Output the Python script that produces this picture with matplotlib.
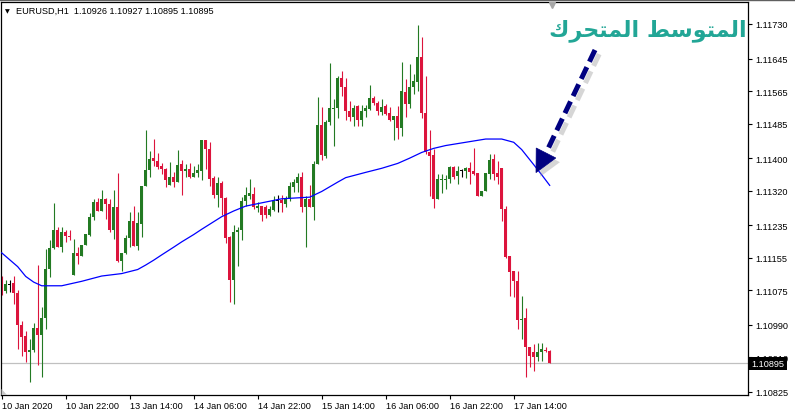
import numpy as np
import matplotlib
matplotlib.use("Agg")
import matplotlib.pyplot as plt
import matplotlib.patheffects as pe
import matplotlib.transforms as mtransforms
from matplotlib.patches import Polygon
from matplotlib.lines import Line2D

# EURUSD H1 candles, 10 Jan 2020 06:00 -> 17 Jan 2020 23:00
opens = [1.11084, 1.11074, 1.11089, 1.11093, 1.11068, 1.10990, 1.10962, 1.10922, 1.10929, 1.10982,
         1.10966, 1.11007, 1.11127, 1.11179, 1.11223, 1.11182, 1.11218, 1.11209, 1.11113, 1.11167,
         1.11160, 1.11186, 1.11211, 1.11255, 1.11293, 1.11271, 1.11300, 1.11286, 1.11223, 1.11279,
         1.11148, 1.11166, 1.11203, 1.11246, 1.11185, 1.11238, 1.11331, 1.11371, 1.11400, 1.11394,
         1.11381, 1.11373, 1.11335, 1.11354, 1.11341, 1.11386, 1.11369, 1.11373, 1.11354, 1.11363,
         1.11369, 1.11445, 1.11423, 1.11351, 1.11310, 1.11339, 1.11302, 1.11207, 1.11100, 1.11218,
         1.11222, 1.11295, 1.11306, 1.11312, 1.11277, 1.11282, 1.11281, 1.11261, 1.11273, 1.11295,
         1.11297, 1.11287, 1.11300, 1.11330, 1.11338, 1.11354, 1.11281, 1.11300, 1.11281, 1.11386,
         1.11482, 1.11406, 1.11488, 1.11521, 1.11523, 1.11597, 1.11576, 1.11515, 1.11502, 1.11528,
         1.11495, 1.11515, 1.11522, 1.11548, 1.11535, 1.11514, 1.11528, 1.11510, 1.11495, 1.11503,
         1.11474, 1.11563, 1.11532, 1.11575, 1.11587, 1.11650, 1.11512, 1.11414, 1.11408, 1.11300,
         1.11345, 1.11345, 1.11349, 1.11379, 1.11357, 1.11368, 1.11369, 1.11375, 1.11368, 1.11364,
         1.11308, 1.11318, 1.11361, 1.11398, 1.11364, 1.11375, 1.11275, 1.11159, 1.11123, 1.11097,
         1.11002, 1.11006, 1.10936, 1.10922, 1.10910, 1.10922, 1.10928, 1.10926]
highs = [1.11111, 1.11101, 1.11100, 1.11111, 1.11076, 1.10999, 1.10974, 1.10955, 1.10995, 1.11138,
         1.11035, 1.11177, 1.11199, 1.11290, 1.11231, 1.11230, 1.11222, 1.11223, 1.11201, 1.11181,
         1.11186, 1.11213, 1.11264, 1.11300, 1.11302, 1.11322, 1.11302, 1.11300, 1.11322, 1.11363,
         1.11166, 1.11212, 1.11267, 1.11282, 1.11267, 1.11332, 1.11469, 1.11417, 1.11447, 1.11412,
         1.11387, 1.11376, 1.11390, 1.11365, 1.11420, 1.11395, 1.11386, 1.11388, 1.11381, 1.11386,
         1.11445, 1.11445, 1.11439, 1.11357, 1.11353, 1.11343, 1.11304, 1.11209, 1.11236, 1.11231,
         1.11304, 1.11328, 1.11349, 1.11328, 1.11293, 1.11282, 1.11285, 1.11282, 1.11308, 1.11310,
         1.11309, 1.11308, 1.11341, 1.11349, 1.11364, 1.11367, 1.11308, 1.11334, 1.11392, 1.11550,
         1.11526, 1.11495, 1.11634, 1.11546, 1.11601, 1.11615, 1.11597, 1.11541, 1.11531, 1.11531,
         1.11531, 1.11531, 1.11580, 1.11554, 1.11541, 1.11546, 1.11534, 1.11526, 1.11504, 1.11529,
         1.11637, 1.11595, 1.11632, 1.11607, 1.11728, 1.11699, 1.11602, 1.11469, 1.11423, 1.11361,
         1.11361, 1.11359, 1.11381, 1.11381, 1.11381, 1.11373, 1.11378, 1.11390, 1.11424, 1.11364,
         1.11320, 1.11364, 1.11410, 1.11410, 1.11394, 1.11375, 1.11283, 1.11160, 1.11123, 1.11122,
         1.11062, 1.11031, 1.10936, 1.10943, 1.10945, 1.10945, 1.10935, 1.10927]
lows = [1.11064, 1.11068, 1.11071, 1.11040, 1.10931, 1.10913, 1.10899, 1.10849, 1.10922, 1.10891,
        1.10861, 1.10980, 1.11108, 1.11177, 1.11182, 1.11170, 1.11193, 1.11199, 1.11113, 1.11140,
        1.11160, 1.11186, 1.11209, 1.11248, 1.11269, 1.11271, 1.11250, 1.11218, 1.11201, 1.11145,
        1.11123, 1.11164, 1.11181, 1.11183, 1.11174, 1.11207, 1.11331, 1.11353, 1.11381, 1.11373,
        1.11361, 1.11330, 1.11335, 1.11330, 1.11341, 1.11310, 1.11353, 1.11351, 1.11354, 1.11353,
        1.11346, 1.11373, 1.11332, 1.11302, 1.11281, 1.11261, 1.11191, 1.11047, 1.11040, 1.11135,
        1.11199, 1.11283, 1.11300, 1.11275, 1.11267, 1.11245, 1.11253, 1.11258, 1.11271, 1.11268,
        1.11268, 1.11279, 1.11295, 1.11316, 1.11316, 1.11267, 1.11182, 1.11281, 1.11248, 1.11386,
        1.11395, 1.11400, 1.11482, 1.11431, 1.11498, 1.11554, 1.11495, 1.11492, 1.11480, 1.11480,
        1.11480, 1.11501, 1.11519, 1.11531, 1.11506, 1.11506, 1.11505, 1.11491, 1.11445, 1.11448,
        1.11455, 1.11502, 1.11523, 1.11558, 1.11566, 1.11499, 1.11410, 1.11308, 1.11277, 1.11300,
        1.11314, 1.11324, 1.11338, 1.11349, 1.11336, 1.11354, 1.11350, 1.11336, 1.11359, 1.11308,
        1.11306, 1.11318, 1.11349, 1.11347, 1.11336, 1.11246, 1.11154, 1.11062, 1.11058, 1.10980,
        1.10955, 1.10861, 1.10887, 1.10877, 1.10900, 1.10900, 1.10922, 1.10895]
closes = [1.11071, 1.11090, 1.11089, 1.11068, 1.10990, 1.10961, 1.10922, 1.10929, 1.10982, 1.10966,
          1.11007, 1.11127, 1.11179, 1.11223, 1.11182, 1.11219, 1.11209, 1.11205, 1.11167, 1.11160,
          1.11186, 1.11213, 1.11256, 1.11293, 1.11271, 1.11300, 1.11286, 1.11223, 1.11279, 1.11148,
          1.11166, 1.11204, 1.11246, 1.11183, 1.11241, 1.11332, 1.11372, 1.11398, 1.11394, 1.11379,
          1.11373, 1.11347, 1.11354, 1.11342, 1.11383, 1.11369, 1.11373, 1.11353, 1.11364, 1.11371,
          1.11445, 1.11423, 1.11349, 1.11310, 1.11339, 1.11302, 1.11204, 1.11100, 1.11218, 1.11222,
          1.11295, 1.11309, 1.11314, 1.11279, 1.11283, 1.11261, 1.11261, 1.11275, 1.11295, 1.11295,
          1.11289, 1.11300, 1.11332, 1.11341, 1.11354, 1.11281, 1.11300, 1.11281, 1.11386, 1.11482,
          1.11408, 1.11490, 1.11523, 1.11523, 1.11597, 1.11576, 1.11515, 1.11502, 1.11523, 1.11495,
          1.11517, 1.11523, 1.11548, 1.11535, 1.11516, 1.11527, 1.11508, 1.11495, 1.11503, 1.11474,
          1.11566, 1.11532, 1.11575, 1.11589, 1.11650, 1.11512, 1.11414, 1.11406, 1.11300, 1.11349,
          1.11349, 1.11349, 1.11379, 1.11354, 1.11368, 1.11368, 1.11375, 1.11367, 1.11361, 1.11308,
          1.11318, 1.11364, 1.11396, 1.11361, 1.11354, 1.11275, 1.11158, 1.11121, 1.11097, 1.11002,
          1.11004, 1.10936, 1.10913, 1.10910, 1.10922, 1.10931, 1.10925, 1.10895]

# moving average, read at some bars
ma_bars = [0, 2, 4, 6, 8, 10, 15, 20, 25, 30, 34, 36, 38, 40, 43, 45, 48, 50, 55, 58, 61, 65,
           70, 77, 80, 84, 86, 91, 95, 99, 102, 105, 108, 111, 116, 121, 125, 128, 130, 133,
           135, 137]
ma_values = [1.11167, 1.11150, 1.11133, 1.11109, 1.11095, 1.11086, 1.11086, 1.11097, 1.11110,
             1.11116, 1.11126, 1.11137, 1.11149, 1.11162, 1.11181, 1.11194, 1.11212, 1.11225,
             1.11256, 1.11270, 1.11282, 1.11290, 1.11300, 1.11304, 1.11318, 1.11341, 1.11352,
             1.11365, 1.11375, 1.11387, 1.11400, 1.11414, 1.11424, 1.11431, 1.11439, 1.11447,
             1.11447, 1.11439, 1.11421, 1.11384, 1.11359, 1.11333]

time_ticks = [0, 16, 32, 48, 64, 80, 96, 112, 128]
time_labels = ["10 Jan 2020", "10 Jan 22:00", "13 Jan 14:00", "14 Jan 06:00", "14 Jan 22:00",
               "15 Jan 14:00", "16 Jan 06:00", "16 Jan 22:00", "17 Jan 14:00"]
price_ticks = [1.11730, 1.11645, 1.11565, 1.11485, 1.11400, 1.11320, 1.11235, 1.11155,
               1.11075, 1.10990, 1.10910, 1.10825]
last_price = 1.10895
header = "EURUSD,H1  1.10926 1.10927 1.10895 1.10895"
title_ar = "المتوسط المتحرك"

# arabic presentation forms: isolated, final, initial, medial
FORMS = {
    "ا": ("\ufe8d", "\ufe8e", None, None),
    "ل": ("\ufedd", "\ufede", "\ufedf", "\ufee0"),
    "م": ("\ufee1", "\ufee2", "\ufee3", "\ufee4"),
    "ت": ("\ufe95", "\ufe96", "\ufe97", "\ufe98"),
    "و": ("\ufeed", "\ufeee", None, None),
    "س": ("\ufeb1", "\ufeb2", "\ufeb3", "\ufeb4"),
    "ط": ("\ufec1", "\ufec2", "\ufec3", "\ufec4"),
    "ح": ("\ufea1", "\ufea2", "\ufea3", "\ufea4"),
    "ر": ("\ufead", "\ufeae", None, None),
    "ك": ("\ufed9", "\ufeda", "\ufedb", "\ufedc"),
}


def shape_arabic(text):
    out = []
    for i, ch in enumerate(text):
        if ch not in FORMS:
            out.append(ch)
            continue
        prev = text[i - 1] if i > 0 else " "
        nxt = text[i + 1] if i + 1 < len(text) else " "
        join_prev = prev in FORMS and FORMS[prev][2] is not None
        join_next = nxt in FORMS and FORMS[ch][2] is not None
        iso, fin, ini, med = FORMS[ch]
        if join_prev and join_next:
            out.append(med)
        elif join_prev:
            out.append(fin)
        elif join_next:
            out.append(ini)
        else:
            out.append(iso)
    return "".join(reversed(out))


W, H = 795, 414
plt.rcParams["font.family"] = ["Liberation Sans", "DejaVu Sans"]
fig = plt.figure(figsize=(W / 100, H / 100), dpi=100)
fig.patch.set_facecolor("white")
ax = fig.add_axes([1 / W, 18 / H, 747 / W, 393 / H])

ymin, ymax = 1.108173, 1.117841
ax.set_ylim(ymin, ymax)
ax.set_xlim(-0.175, 186.575)

o = np.array(opens)
h = np.array(highs)
l = np.array(lows)
c = np.array(closes)
x = np.arange(len(o))
bull, bear = "#237a23", "#dc143c"
colors = np.where(c > o, bull, np.where(c < o, bear, "black"))
px = (ymax - ymin) / 393

ax.vlines(x, l, h, colors=colors, lw=0.8, zorder=2)
ax.bar(x, np.maximum(np.abs(c - o), px), bottom=np.minimum(o, c), width=0.75,
       color=colors, linewidth=0, zorder=2)

ax.plot(ma_bars, ma_values, color="#0000ff", lw=0.9, zorder=3)
ax.axhline(last_price, color="#c0c0c0", lw=0.9, zorder=1)

ax.yaxis.tick_right()
ax.set_yticks(price_ticks, ["%.5f" % p for p in price_ticks])
ax.set_xticks(time_ticks, time_labels, ha="left")
ax.tick_params(axis="y", length=3, width=0.8, pad=2, labelsize=6.6)
ax.tick_params(axis="x", length=3, width=0.8, pad=1.5, labelsize=6.6)
for s in ax.spines.values():
    s.set_linewidth(0.9)
    s.set_color("black")

tr = mtransforms.blended_transform_factory(ax.transAxes, ax.transData)
ax.text(1.005, last_price, "1.10895", transform=tr, ha="left", va="center", color="white",
        fontsize=6.6, zorder=10, clip_on=False,
        bbox=dict(boxstyle="square,pad=0.25", fc="black", ec="none"))

# header
fig.text(5 / W, 1 - 11.5 / H, "▼", fontsize=4.5, family="DejaVu Sans", va="center")
fig.text(16 / W, 1 - 11.5 / H, header, fontsize=6.6, va="center")
fig.add_artist(Line2D([0, 1], [1 - 0.5 / H] * 2, color="#606060", lw=1))
fig.add_artist(Line2D([552 / W], [1 - 5.5 / H], marker="v", color="#a8a8a8", markersize=4))
fig.add_artist(Polygon([(1.5 / W, 1 - 396 / H), (7 / W, 1 - 396 / H), (1.5 / W, 1 - 390 / H)],
                       closed=True, fc="#c8c8c8", ec="none"))

# arabic label
fig.text(648 / W, 1 - 31 / H, shape_arabic(title_ar), fontsize=16, fontweight="bold",
         family="DejaVu Sans", color="#22a696", ha="center", va="center")

# dashed arrow with soft shadow
shadow = [pe.SimpleLineShadow(offset=(3, -3), shadow_color="0.55", alpha=0.35), pe.Normal()]
ax.plot([0.7952, 0.7296], [0.8779, 0.6158], transform=ax.transAxes, color="#000080", lw=3.6,
        ls=(0, (2.6, 1.2)), solid_capstyle="butt", dash_capstyle="butt", zorder=6,
        path_effects=shadow, clip_on=False)
head = Polygon([(0.7427, 0.6031), (0.7165, 0.6285), (0.7162, 0.5659)], closed=True,
               transform=ax.transAxes, fc="#000080", ec="#000080", lw=0.5, zorder=6,
               path_effects=[pe.SimplePatchShadow(offset=(3, -3), shadow_rgbFace="0.55",
                                                  alpha=0.35), pe.Normal()])
ax.add_patch(head)

fig.savefig("out.png", dpi=100, facecolor="white")
